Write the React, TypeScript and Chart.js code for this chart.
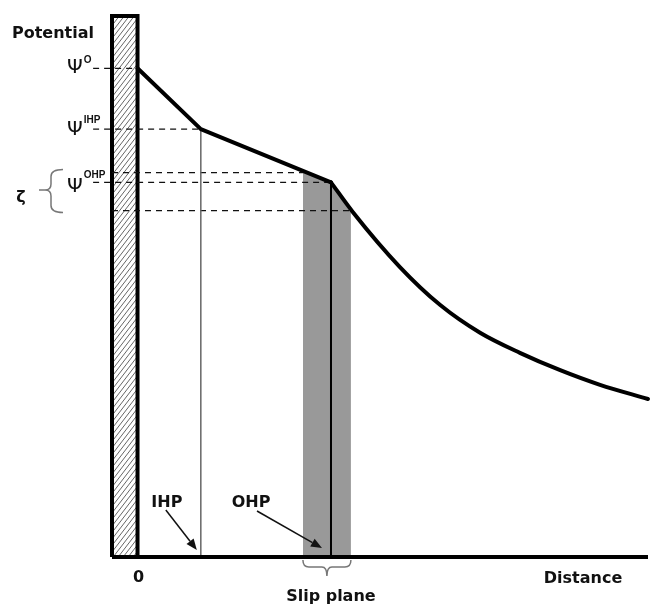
import React, { useEffect, useRef } from 'react';
import { Chart, registerables } from 'chart.js';

Chart.register(...registerables);

// ---- data (distance from surface, potential) ----
const sternDistance = [0, 1.24, 3.79];
const sternPotential = [9.0, 7.88, 6.9];
const diffuseDistance = [3.79, 4.22, 5.14, 5.93, 6.71, 7.49, 8.28, 9.06, 10.0];
const diffusePotential = [6.9, 6.35, 5.34, 4.64, 4.13, 3.76, 3.44, 3.17, 2.91];

const slipDistance = [3.24, 3.79, 4.18];
const slipPotential = [7.08, 6.9, 6.38];

const levelPotential = [9.0, 7.88, 7.08, 6.9, 6.38];
const levelFrom = [-0.87, -0.87, -0.5, -0.87, -0.5];
const levelTo = [0, 1.24, 3.24, 3.79, 4.18];

const ihpDistance = 1.24;
const ihpPotential = 7.88;
const ohpDistance = 3.79;
const ohpPotential = 6.9;
const wallFrom = -0.5;
const wallTo = 0;
const axisEnd = 10;

const psiSuperscripts = ['O', 'IHP', 'OHP'];
const psiLevels = [9.0, 7.88, 6.9];
const axisTitleY = 'Potential';
const axisTitleX = 'Distance';
const originLabel = '0';
const slipLabel = 'Slip plane';
const planeLabels = ['IHP', 'OHP'];
const zetaLabel = 'ζ';

const FONT = '"DejaVu Sans", sans-serif';

const wallPlugin = {
  id: 'wall',
  beforeDatasetsDraw(chart: any) {
    const { ctx, scales } = chart;
    const x = scales.x, y = scales.y;
    const l = x.getPixelForValue(wallFrom);
    const r = x.getPixelForValue(wallTo);
    const t = y.getPixelForValue(axisEnd) + 2;
    const b = y.getPixelForValue(0);
    ctx.save();
    ctx.fillStyle = '#fff';
    ctx.fillRect(l, t, r - l, b - t);
    ctx.beginPath();
    ctx.rect(l, t, r - l, b - t);
    ctx.clip();
    ctx.strokeStyle = '#666';
    ctx.lineWidth = 1;
    const w = r - l;
    for (let yy = t - 10; yy < b + w * 1.4 + 10; yy += 6.5) {
      ctx.beginPath();
      ctx.moveTo(l, yy);
      ctx.lineTo(r, yy - w * 1.3);
      ctx.stroke();
    }
    ctx.restore();
    ctx.save();
    ctx.strokeStyle = '#000';
    ctx.lineWidth = 4;
    ctx.lineJoin = 'miter';
    ctx.beginPath();
    ctx.moveTo(l, b);
    ctx.lineTo(l, t);
    ctx.lineTo(r, t);
    ctx.lineTo(r, b);
    ctx.stroke();
    ctx.restore();
  },
};

function arrow(ctx: CanvasRenderingContext2D, x1: number, y1: number, x2: number, y2: number) {
  const ang = Math.atan2(y2 - y1, x2 - x1);
  const len = 11, half = 4.5;
  const bx = x2 - len * Math.cos(ang), by = y2 - len * Math.sin(ang);
  ctx.beginPath();
  ctx.moveTo(x1, y1);
  ctx.lineTo(bx, by);
  ctx.stroke();
  ctx.beginPath();
  ctx.moveTo(x2, y2);
  ctx.lineTo(bx + half * Math.sin(ang), by - half * Math.cos(ang));
  ctx.lineTo(bx - half * Math.sin(ang), by + half * Math.cos(ang));
  ctx.closePath();
  ctx.fill();
}

const labelPlugin = {
  id: 'labels',
  afterDraw(chart: any) {
    const { ctx, scales } = chart;
    const x = scales.x, y = scales.y;
    const y0 = y.getPixelForValue(0);
    ctx.save();
    ctx.fillStyle = '#111';
    ctx.textBaseline = 'alphabetic';

    // axis titles
    ctx.font = 'bold 16px ' + FONT;
    ctx.textAlign = 'left';
    ctx.fillText(axisTitleY, 12, 38);
    ctx.textAlign = 'center';
    ctx.fillText(axisTitleX, 583, y0 + 26);
    ctx.fillText(originLabel, x.getPixelForValue(0) + 1, y0 + 25);
    const slipL = x.getPixelForValue(slipDistance[0]);
    const slipR = x.getPixelForValue(slipDistance[slipDistance.length - 1]);
    const slipC = (slipL + slipR) / 2;
    ctx.fillText(slipLabel, slipC + 4, y0 + 44);

    // IHP / OHP labels and arrows
    const ihpX = x.getPixelForValue(ihpDistance);
    const ohpX = x.getPixelForValue(ohpDistance);
    ctx.fillText(planeLabels[0], ihpX - 34, y0 - 50);
    ctx.fillText(planeLabels[1], ohpX - 80, y0 - 50);
    ctx.strokeStyle = '#111';
    ctx.lineWidth = 1.5;
    arrow(ctx, ihpX - 35, y0 - 47, ihpX - 4, y0 - 7);
    arrow(ctx, ohpX - 74, y0 - 46, ohpX - 9, y0 - 9);

    // psi labels
    const baseOff = [5, 6, 10];
    const supOff = [-5, -6, -4];
    psiSuperscripts.forEach((s, i) => {
      const py = y.getPixelForValue(psiLevels[i]);
      ctx.textAlign = 'left';
      ctx.font = '20px ' + FONT;
      ctx.fillText('Ψ', 67, py + baseOff[i]);
      const w = ctx.measureText('Ψ').width;
      ctx.font = 'bold 10px "Liberation Sans", sans-serif';
      ctx.fillText(s, 67 + w + 1, py + supOff[i]);
    });

    // zeta brace
    const bt = y.getPixelForValue(slipPotential[0]) - 3;
    const bb = y.getPixelForValue(slipPotential[2]) + 2;
    const bm = (bt + bb) / 2 - 1;
    ctx.strokeStyle = '#777';
    ctx.lineWidth = 1.5;
    ctx.beginPath();
    ctx.moveTo(63, bt);
    ctx.quadraticCurveTo(51, bt, 51, bt + 7);
    ctx.lineTo(51, bm - 6);
    ctx.quadraticCurveTo(51, bm, 45, bm);
    ctx.lineTo(39, bm);
    ctx.moveTo(45, bm);
    ctx.quadraticCurveTo(51, bm, 51, bm + 6);
    ctx.lineTo(51, bb - 7);
    ctx.quadraticCurveTo(51, bb, 63, bb);
    ctx.stroke();
    ctx.fillStyle = '#111';
    ctx.font = 'bold 16px ' + FONT;
    ctx.textAlign = 'center';
    ctx.fillText(zetaLabel, 21, bm + 12);

    // slip plane brace
    const by1 = y0 + 3;
    const bym = y0 + 10;
    ctx.beginPath();
    ctx.moveTo(slipL, by1);
    ctx.quadraticCurveTo(slipL, bym, slipL + 6, bym);
    ctx.lineTo(slipC - 5, bym);
    ctx.quadraticCurveTo(slipC, bym, slipC, bym + 9);
    ctx.quadraticCurveTo(slipC, bym, slipC + 5, bym);
    ctx.lineTo(slipR - 6, bym);
    ctx.quadraticCurveTo(slipR, bym, slipR, by1);
    ctx.stroke();
    ctx.restore();
  },
};

const pts = (xs: number[], ys: number[]) => xs.map((v, i) => ({ x: v, y: ys[i] }));

export default function App() {
  const ref = useRef<HTMLCanvasElement | null>(null);
  useEffect(() => {
    if (!ref.current) return;
    const levelSets = levelPotential.map((p, i) => ({
      data: [{ x: levelFrom[i], y: p }, { x: levelTo[i], y: p }],
      borderColor: '#111',
      borderWidth: 1.2,
      borderDash: [6, 5],
      pointRadius: 0,
      showLine: true,
      clip: false as any,
      order: 5,
    }));
    const chart = new Chart(ref.current, {
      type: 'scatter',
      data: {
        datasets: [
          {
            data: pts(sternDistance, sternPotential),
            borderColor: '#000',
            borderWidth: 4,
            pointRadius: 0,
            showLine: true,
            borderCapStyle: 'round',
            borderJoinStyle: 'round',
            clip: false as any,
            order: 0,
          },
          {
            data: pts(diffuseDistance, diffusePotential),
            borderColor: '#000',
            borderWidth: 4,
            pointRadius: 0,
            showLine: true,
            cubicInterpolationMode: 'monotone',
            borderCapStyle: 'round',
            clip: false as any,
            order: 0,
          },
          {
            data: [{ x: ohpDistance, y: 0 }, { x: ohpDistance, y: ohpPotential }],
            borderColor: '#000',
            borderWidth: 2,
            pointRadius: 0,
            showLine: true,
            order: 2,
          },
          {
            data: [{ x: ihpDistance, y: 0 }, { x: ihpDistance, y: ihpPotential }],
            borderColor: '#666',
            borderWidth: 1.5,
            pointRadius: 0,
            showLine: true,
            order: 2,
          },
          ...levelSets,
          {
            data: [{ x: wallFrom, y: 0 }, { x: axisEnd, y: 0 }],
            borderColor: '#000',
            borderWidth: 4,
            pointRadius: 0,
            showLine: true,
            clip: false as any,
            order: 1,
          },
          {
            data: pts(slipDistance, slipPotential),
            borderWidth: 0,
            borderColor: 'rgba(0,0,0,0)',
            backgroundColor: '#999999',
            fill: 'origin',
            pointRadius: 0,
            showLine: true,
            order: 10,
          },
        ] as any,
      },
      options: {
        responsive: false,
        animation: false,
        devicePixelRatio: 1,
        layout: { padding: { left: 112, right: 3, top: 14, bottom: 49 } },
        scales: {
          x: { type: 'linear', min: wallFrom, max: axisEnd, display: false },
          y: { type: 'linear', min: 0, max: axisEnd, display: false },
        },
        plugins: { legend: { display: false }, tooltip: { enabled: false } },
        events: [],
      } as any,
      plugins: [wallPlugin, labelPlugin],
    });
    return () => chart.destroy();
  }, []);
  return (
    <div style={{ position: 'absolute', left: 0, top: 0, width: 651, height: 606, background: '#fff' }}>
      <canvas ref={ref} width={651} height={606} style={{ display: 'block' }} />
    </div>
  );
}
